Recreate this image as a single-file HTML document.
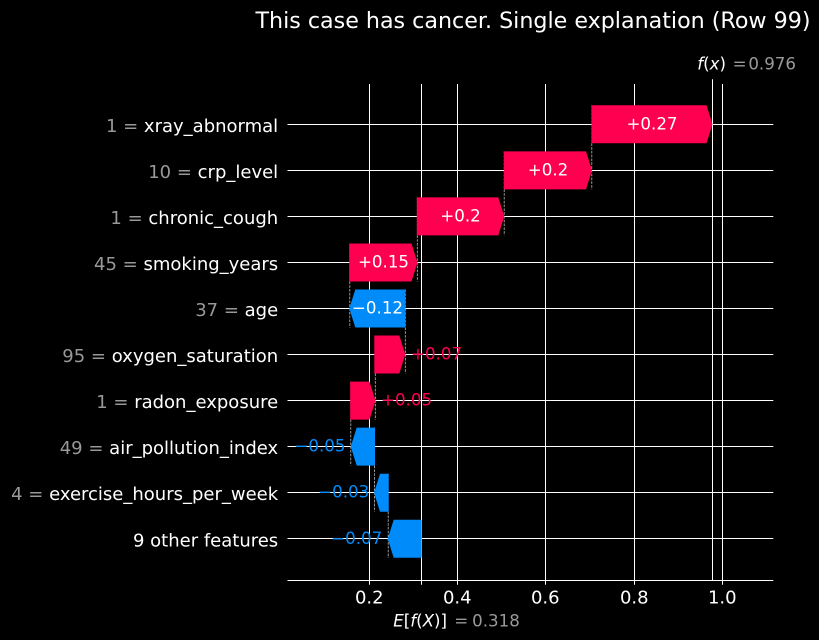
<!DOCTYPE html>
<html>
<head>
<meta charset="utf-8">
<style>
  html, body { margin:0; padding:0; background:#000; }
  svg { display:block; }
  text { font-family: "DejaVu Sans", "Liberation Sans", sans-serif; }
</style>
</head>
<body>
<svg width="819" height="640" viewBox="0 0 819 640" xmlns="http://www.w3.org/2000/svg">
  <rect x="0" y="0" width="819" height="640" fill="#000"/>

  <!-- Title -->
  <text x="533" y="28" font-size="22.2" fill="#fff" text-anchor="middle">This case has cancer. Single explanation (Row 99)</text>

  <!-- horizontal grid lines -->
  <g stroke="#fff" stroke-width="1">
    <line x1="287.5" x2="773.3" y1="124.5" y2="124.5"/>
    <line x1="287.5" x2="773.3" y1="170.5" y2="170.5"/>
    <line x1="287.5" x2="773.3" y1="216.5" y2="216.5"/>
    <line x1="287.5" x2="773.3" y1="262.5" y2="262.5"/>
    <line x1="287.5" x2="773.3" y1="308.5" y2="308.5"/>
    <line x1="287.5" x2="773.3" y1="354.5" y2="354.5"/>
    <line x1="287.5" x2="773.3" y1="400.5" y2="400.5"/>
    <line x1="287.5" x2="773.3" y1="446.5" y2="446.5"/>
    <line x1="287.5" x2="773.3" y1="492.5" y2="492.5"/>
    <line x1="287.5" x2="773.3" y1="538.5" y2="538.5"/>
  </g>

  <!-- vertical grid lines -->
  <g stroke="#fff" stroke-width="1">
    <line x1="369.5" x2="369.5" y1="84" y2="584.8"/>
    <line x1="457.5" x2="457.5" y1="84" y2="584.8"/>
    <line x1="545.5" x2="545.5" y1="84" y2="584.8"/>
    <line x1="634.5" x2="634.5" y1="84" y2="584.8"/>
    <line x1="722.5" x2="722.5" y1="84" y2="584.8"/>
    <line x1="421.5" x2="421.5" y1="84" y2="584.8"/>
    <line x1="712.5" x2="712.5" y1="79.3" y2="580.5"/>
  </g>

  <!-- bottom spine -->
  <line x1="287.5" x2="773.3" y1="580.5" y2="580.5" stroke="#fff" stroke-width="1"/>

  <!-- dashed connectors -->
  <g stroke="#bbbbbb" stroke-width="0.8" stroke-dasharray="2.6 1.2" fill="none">
    <line x1="591.8" x2="591.8" y1="105.3" y2="189.35"/>
    <line x1="504.2" x2="504.2" y1="151.35" y2="235.4"/>
    <line x1="417.3" x2="417.3" y1="197.4" y2="281.45"/>
    <line x1="349.8" x2="349.8" y1="243.45" y2="327.5"/>
    <line x1="405.3" x2="405.3" y1="289.5" y2="373.55"/>
    <line x1="375.3" x2="375.3" y1="335.55" y2="419.6"/>
    <line x1="350.8" x2="350.8" y1="381.6" y2="465.65"/>
    <line x1="374.5" x2="374.5" y1="427.65" y2="511.7"/>
    <line x1="388.2" x2="388.2" y1="473.7" y2="557.75"/>
  </g>

  <!-- bars -->
  <g fill="#ff0051">
    <polygon points="591.5,105.3 706.5,105.3 712.5,124.3 706.5,143.3 591.5,143.3"/>
    <polygon points="504,151.35 586,151.35 592,170.35 586,189.35 504,189.35"/>
    <polygon points="416.8,197.4 498.3,197.4 504.3,216.4 498.3,235.4 416.8,235.4"/>
    <polygon points="349.2,243.45 411.5,243.45 417.5,262.45 411.5,281.45 349.2,281.45"/>
    <polygon points="374.3,335.55 399.3,335.55 405.3,354.55 399.3,373.55 374.3,373.55"/>
    <polygon points="350.2,381.6 369.5,381.6 375.5,400.6 369.5,419.6 350.2,419.6"/>
  </g>
  <g fill="#008bfb">
    <polygon points="355.3,289.5 405.3,289.5 405.3,327.5 355.3,327.5 349.3,308.5"/>
    <polygon points="356.7,427.65 375,427.65 375,465.65 356.7,465.65 350.7,446.65"/>
    <polygon points="380,473.7 388.7,473.7 388.7,511.7 380,511.7 374,492.7"/>
    <polygon points="393.7,519.75 421.7,519.75 421.7,557.75 393.7,557.75 387.7,538.75"/>
  </g>

  <!-- bar labels -->
  <g font-size="16.67">
    <text x="652" y="129.3" fill="#fff" text-anchor="middle">+0.27</text>
    <text x="548" y="175.35" fill="#fff" text-anchor="middle">+0.2</text>
    <text x="460.5" y="221.4" fill="#fff" text-anchor="middle">+0.2</text>
    <text x="383.5" y="267.45" fill="#fff" text-anchor="middle">+0.15</text>
    <text x="377.5" y="313.5" fill="#fff" text-anchor="middle">−0.12</text>
    <text x="411" y="359.55" fill="#ff0051">+0.07</text>
    <text x="381" y="405.6" fill="#ff0051">+0.05</text>
    <text x="345.5" y="451.65" fill="#008bfb" text-anchor="end">−0.05</text>
    <text x="369.2" y="497.7" fill="#008bfb" text-anchor="end">−0.03</text>
    <text x="382.2" y="543.75" fill="#008bfb" text-anchor="end">−0.07</text>
  </g>

  <!-- y labels -->
  <g font-size="18" fill="#fff" text-anchor="end">
    <text x="278.2" y="131.8"><tspan fill="#999999">1 = </tspan>xray_abnormal</text>
    <text x="278.2" y="177.85"><tspan fill="#999999">10 = </tspan>crp_level</text>
    <text x="278.2" y="223.9"><tspan fill="#999999">1 = </tspan>chronic_cough</text>
    <text x="278.2" y="269.95"><tspan fill="#999999">45 = </tspan>smoking_years</text>
    <text x="278.2" y="316"><tspan fill="#999999">37 = </tspan>age</text>
    <text x="278.2" y="362.05"><tspan fill="#999999">95 = </tspan>oxygen_saturation</text>
    <text x="278.2" y="408.1"><tspan fill="#999999">1 = </tspan>radon_exposure</text>
    <text x="278.2" y="454.15"><tspan fill="#999999">49 = </tspan>air_pollution_index</text>
    <text x="278.2" y="500.2"><tspan fill="#999999">4 = </tspan>exercise_hours_per_week</text>
    <text x="278.2" y="546.25">9 other features</text>
  </g>

  <!-- x tick labels -->
  <g font-size="18" fill="#fff" text-anchor="middle">
    <text x="369.3" y="603.3">0.2</text>
    <text x="457.3" y="603.3">0.4</text>
    <text x="545.3" y="603.3">0.6</text>
    <text x="634.3" y="603.3">0.8</text>
    <text x="722.3" y="603.3">1.0</text>
  </g>

  <!-- f(x) label -->
  <g font-size="16.67">
    <text x="726" y="69.3" fill="#fff" text-anchor="end"><tspan font-style="italic">f</tspan>(<tspan font-style="italic">x</tspan>)</text>
    <text x="732.6" y="69.3" fill="#999999">=</text>
    <text x="796" y="69.3" fill="#999999" text-anchor="end">0.976</text>
  </g>

  <!-- E[f(X)] label -->
  <g font-size="16.67">
    <text x="393.2" y="626.7" fill="#fff"><tspan font-style="italic">E</tspan>[<tspan font-style="italic">f</tspan>(<tspan font-style="italic">X</tspan>)]</text>
    <text x="454.3" y="626.7" fill="#999999">=</text>
    <text x="519.8" y="626.7" fill="#999999" text-anchor="end">0.318</text>
  </g>
</svg>
</body>
</html>
